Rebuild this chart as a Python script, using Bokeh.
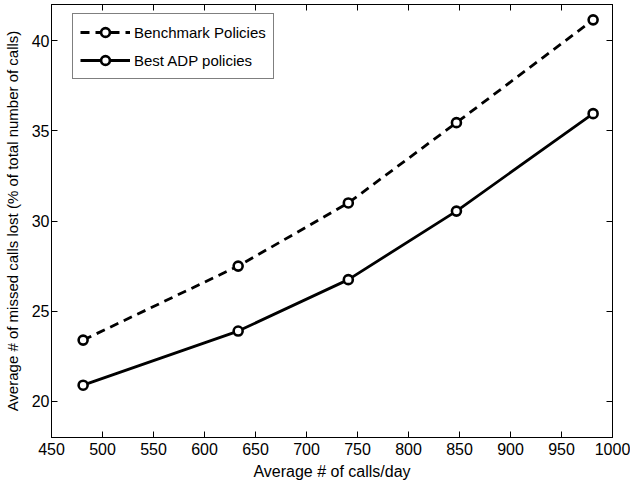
from bokeh.plotting import figure
from bokeh.models import LinearAxis, Range1d, FixedTicker, Legend, LegendItem
from bokeh.embed import file_html
from bokeh.resources import INLINE

calls_per_day = [481, 633, 741, 847, 981]
benchmark = [23.4, 27.5, 31.0, 35.45, 41.15]
best_adp = [20.9, 23.9, 26.75, 30.55, 35.95]
x_ticks = [450, 500, 550, 600, 650, 700, 750, 800, 850, 900, 950, 1000]
y_ticks = [20, 25, 30, 35, 40]
series_names = ["Benchmark Policies", "Best ADP policies"]

FONT = "Liberation Sans"

p = figure(width=630, height=482, output_backend="svg", toolbar_location=None,
           x_range=Range1d(450, 1000), y_range=Range1d(18.0, 42.0),
           min_border_left=48, min_border_right=18, min_border_top=4, min_border_bottom=0,
           x_axis_label="Average # of calls/day",
           y_axis_label="Average # of missed calls lost (% of total number of calls)")
p.xgrid.visible = False
p.ygrid.visible = False
p.outline_line_color = "black"
p.outline_line_width = 1
p.background_fill_color = "white"
p.border_fill_color = "white"

p.add_layout(LinearAxis(), "above")
p.add_layout(LinearAxis(), "right")

for ax in p.xaxis:
    ax.ticker = FixedTicker(ticks=x_ticks)
for ax in p.yaxis:
    ax.ticker = FixedTicker(ticks=y_ticks)
for ax in p.xaxis + p.yaxis:
    ax.major_tick_in = 6
    ax.major_tick_out = 0
    ax.minor_tick_in = 0
    ax.minor_tick_out = 0
    ax.axis_line_color = "black"
    ax.major_tick_line_color = "black"
    ax.major_label_text_font = FONT
    ax.major_label_text_font_size = "16px"
    ax.major_label_text_color = "black"
    ax.axis_label_text_font = FONT
    ax.axis_label_text_font_size = "16px"
    ax.axis_label_text_font_style = "normal"
    ax.axis_label_text_color = "black"

p.above[0].major_label_overrides = {t: "" for t in x_ticks}
p.above[0].major_label_standoff = 0
p.right[0].major_label_overrides = {t: "" for t in y_ticks}
p.right[0].major_label_standoff = 0

p.xaxis[0].major_label_standoff = 2
p.xaxis[0].axis_label_standoff = 0
p.yaxis[0].major_label_standoff = 2
p.yaxis[0].axis_label_standoff = 8
p.yaxis[0].axis_label_text_font_size = "15px"

l1 = p.line(calls_per_day, benchmark, line_color="black", line_width=2.8, line_dash="9 6")
c1 = p.scatter(calls_per_day, benchmark, marker="circle", size=9, line_color="black",
               line_width=2.6, fill_color="white")
l2 = p.line(calls_per_day, best_adp, line_color="black", line_width=2.8)
c2 = p.scatter(calls_per_day, best_adp, marker="circle", size=9, line_color="black",
               line_width=2.6, fill_color="white")

legend = Legend(items=[LegendItem(label=series_names[0], renderers=[l1, c1]),
                       LegendItem(label=series_names[1], renderers=[l2, c2])],
                location=(21, 358))
legend.border_line_color = "black"
legend.border_line_width = 1
legend.background_fill_color = "white"
legend.background_fill_alpha = 1
legend.label_text_font = FONT
legend.label_text_font_size = "15px"
legend.label_text_color = "black"
legend.glyph_width = 50
legend.glyph_height = 22
legend.padding = 7
legend.spacing = 6
legend.label_standoff = 4
legend.margin = 0
p.add_layout(legend, "center")

open("out.html", "w").write(file_html(p, INLINE))
